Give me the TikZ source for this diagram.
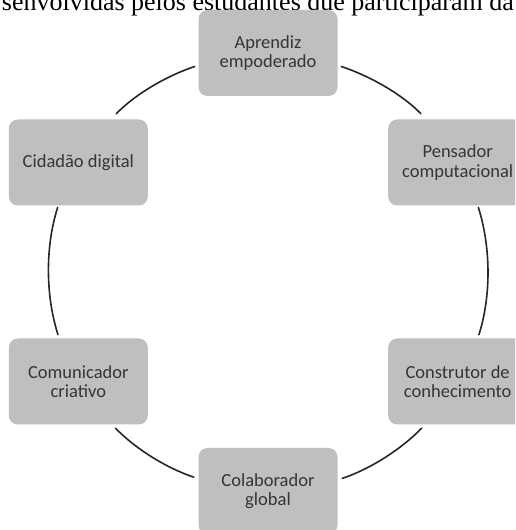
\documentclass[tikz,border=0pt]{standalone}
\usepackage{fontspec}
\setmainfont{Liberation Serif}
\newfontfamily\boxfont{Carlito}
\definecolor{boxgray}{HTML}{BFBFBF}
\definecolor{boxtext}{HTML}{353535}

\begin{document}
\begin{tikzpicture}[x=1pt,y=1pt,
  stage/.style={rectangle,rounded corners=9pt,fill=boxgray,minimum width=139pt,minimum height=86pt,
    inner sep=0pt,outer sep=0pt,align=center,text=boxtext,font=\boxfont\fontsize{18.5}{19.5}\selectfont},
  link/.style={line width=1.6pt,draw=black!85,line cap=round,looseness=0.85}]
\useasboundingbox (0,0) rectangle (515,530);
\clip (0,0) rectangle (515,530);
\coordinate (c) at (268,258);
% line of the caption, cut by the page
\node[anchor=base east,inner sep=0pt,font=\fontsize{26}{26}\selectfont] (caption) at (514,519) {senvolvidas pelos estudantes que participaram da};
% the six stages round the circle
\node[stage] (apr) at ([shift={(90:219)}]c) {Aprendiz\\empoderado};
\node[stage] (pen) at ([shift={(30:219)}]c) {Pensador\\computacional};
\node[stage] (con) at ([shift={(-30:219)}]c) {Construtor de\\conhecimento};
\node[stage] (col) at ([shift={(-90:219)}]c) {Colaborador\\global};
\node[stage] (com) at ([shift={(210:219)}]c) {Comunicador\\criativo};
\node[stage] (cid) at ([shift={(150:219)}]c) {Cidadão digital};
% arcs
\draw[link,shorten <=4pt,shorten >=8pt] (apr.-10) to[out=-18.4,in=133.9] (pen.126.5);
\draw[link,shorten <=2pt,shorten >=4pt] (pen.-65.8) to[out=-72.3,in=72.3] (con.65.8);
\draw[link,shorten <=5pt,shorten >=5pt] (con.-127.1) to[out=-134.1,in=18.5] (col.9.2);
\draw[link,shorten <=4pt,shorten >=8pt] (apr.190) to[out=198.4,in=46.1] (cid.53.5);
\draw[link,shorten <=2pt,shorten >=4pt] (cid.245.8) to[out=252.3,in=107.7] (com.114.2);
\draw[link,shorten <=5pt,shorten >=5pt] (com.-52.9) to[out=-45.9,in=161.5] (col.170.8);
\end{tikzpicture}
\end{document}
